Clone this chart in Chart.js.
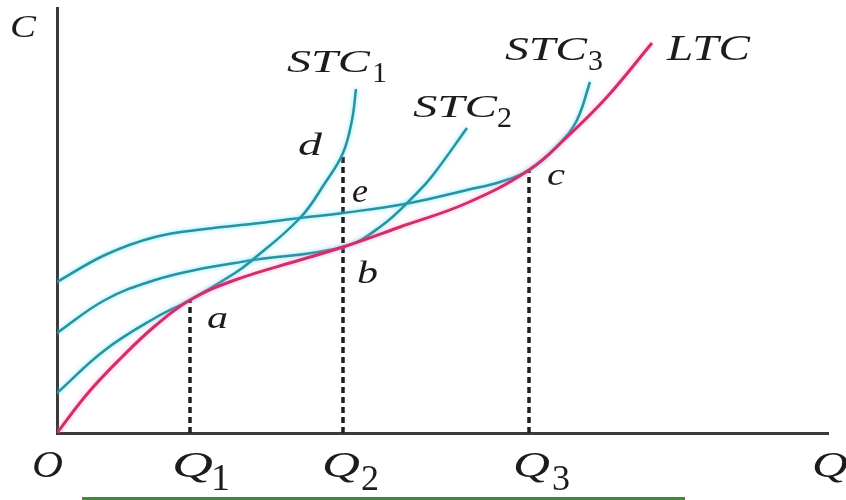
<!DOCTYPE html>
<html>
<head>
<meta charset="utf-8">
<script src="https://cdn.jsdelivr.net/npm/chart.js@4.4.0/dist/chart.umd.min.js"></script>
<style>
  body { margin: 0; background: #fff; }
  #wrap { position: relative; width: 846px; height: 500px; }
  #greenBar { position: absolute; left: 82px; top: 497px; width: 603px; height: 3px; background: #3b8b3b; }
</style>
</head>
<body>
<div id="wrap">
  <canvas id="costChart" width="846" height="500"></canvas>
  <div id="greenBar"></div>
</div>
<script>
// curve data (x = quantity, y = cost)
const ltcX  = [0, 31, 65, 98, 133, 178, 243, 286, 343, 410, 472, 510, 550, 595];
const ltcY  = [0, 40, 76, 107, 133, 153, 173, 186, 206, 230, 263, 296, 336, 390];

const stc1X = [0, 48, 98, 133, 178, 193, 243, 268, 286, 295, 299];
const stc1Y = [40, 83, 115, 133, 160, 171, 215, 250, 280, 313, 344];

const stc2X = [0, 48, 98, 148, 178, 196, 286, 323, 360, 376, 410];
const stc2Y = [100, 133, 153, 165, 170, 173, 186, 206, 240, 258, 305];

const stc3X = [0, 48, 98, 148, 203, 243, 286, 353, 410, 443, 472, 503, 520, 533];
const stc3Y = [151, 178, 196, 204, 210, 215, 220, 230, 243, 251, 263, 290, 313, 351];

// Q1, Q2, Q3 and the height of each dashed guide (a, d, c)
const qValues = [133, 286, 472];
const guideTops = [133, 280, 263];

const teal = '#2a929f';
const pink = '#cf2f6c';

function points(xs, ys) {
    return xs.map((x, i) => ({ x: x, y: ys[i] }));
}

function curve(label, xs, ys, color, width, order) {
    return {
        label: label,
        data: points(xs, ys),
        showLine: true,
        borderColor: color,
        borderWidth: width,
        pointRadius: 0,
        tension: 0.4,
        order: order,
        glow: true
    };
}

const datasets = [
    curve('LTC', ltcX, ltcY, pink, 3, 0),
    curve('STC1', stc1X, stc1Y, teal, 2.5, 1),
    curve('STC2', stc2X, stc2Y, teal, 2.5, 1),
    curve('STC3', stc3X, stc3Y, teal, 2.5, 1)
];

qValues.forEach((q, i) => {
    datasets.push({
        label: 'guide' + (i + 1),
        data: [{ x: q, y: 0 }, { x: q, y: guideTops[i] }],
        showLine: true,
        borderColor: '#1e1e1e',
        borderWidth: 3.5,
        borderDash: [6, 4],
        pointRadius: 0,
        order: 2
    });
});

// text labels: x/y are pixel positions (baseline), w = ink width to fit
const textLabels = [
    { t: 'C',   x: 10,  y: 37,  size: 32, w: 26 },
    { t: 'STC', x: 287, y: 72,  size: 32, w: 83 },
    { t: '1',   x: 372, y: 82,  size: 30, upright: true },
    { t: 'STC', x: 413, y: 117, size: 32, w: 84 },
    { t: '2',   x: 497, y: 127, size: 30, upright: true },
    { t: 'STC', x: 505, y: 60,  size: 33, w: 82 },
    { t: '3',   x: 588, y: 70,  size: 30, upright: true },
    { t: 'LTC', x: 667, y: 60,  size: 36, w: 83 },
    { t: 'd',   x: 298, y: 155, size: 32, w: 24 },
    { t: 'e',   x: 352, y: 202, size: 33, w: 16 },
    { t: 'c',   x: 547, y: 185, size: 31, w: 18 },
    { t: 'b',   x: 357, y: 283, size: 31, w: 21 },
    { t: 'a',   x: 207, y: 328, size: 32, w: 21 },
    { t: 'O',   x: 32,  y: 477, size: 38, w: 31 },
    { t: 'Q',   x: 172, y: 477, size: 36, w: 41 },
    { t: '1',   x: 211, y: 490, size: 38, upright: true },
    { t: 'Q',   x: 322, y: 477, size: 36, w: 38 },
    { t: '2',   x: 361, y: 490, size: 36, upright: true },
    { t: 'Q',   x: 513, y: 477, size: 36, w: 37 },
    { t: '3',   x: 552, y: 490, size: 36, upright: true },
    { t: 'Q',   x: 812, y: 477, size: 36, w: 36 }
];

const glowPlugin = {
    id: 'glow',
    beforeDatasetDraw(chart, args) {
        const ds = chart.data.datasets[args.index];
        if (ds.glow) {
            chart.ctx.shadowColor = ds.borderColor === pink ? 'rgba(255,120,180,0.6)' : 'rgba(60,220,255,0.7)';
            chart.ctx.shadowBlur = 4;
        }
    },
    afterDatasetDraw(chart) {
        chart.ctx.shadowColor = 'transparent';
        chart.ctx.shadowBlur = 0;
    }
};

const labelPlugin = {
    id: 'labels',
    afterDraw(chart) {
        const ctx = chart.ctx;
        ctx.save();
        ctx.fillStyle = '#1c1c1c';
        ctx.textBaseline = 'alphabetic';
        textLabels.forEach(l => {
            ctx.font = (l.upright ? '' : 'italic ') + l.size + 'px "Liberation Serif", "DejaVu Serif", serif';
            const m = ctx.measureText(l.t).width;
            const sx = l.w ? l.w / m : 1;
            ctx.save();
            ctx.translate(l.x, l.y);
            ctx.scale(sx, 1);
            ctx.fillText(l.t, 0, 0);
            ctx.restore();
        });
        ctx.restore();
    }
};

new Chart(document.getElementById('costChart'), {
    type: 'scatter',
    data: { datasets: datasets },
    options: {
        responsive: false,
        animation: false,
        layout: { padding: { left: 57, right: 18, top: 8, bottom: 67 } },
        plugins: {
            legend: { display: false },
            tooltip: { enabled: false }
        },
        scales: {
            x: {
                type: 'linear',
                min: 0,
                max: 771,
                grid: { display: false, drawTicks: false },
                ticks: { display: false },
                border: { display: true, color: '#3a3a3a', width: 3 }
            },
            y: {
                type: 'linear',
                min: 0,
                max: 425,
                grid: { display: false, drawTicks: false },
                ticks: { display: false },
                border: { display: true, color: '#3a3a3a', width: 3 }
            }
        }
    },
    plugins: [glowPlugin, labelPlugin]
});
</script>
</body>
</html>
